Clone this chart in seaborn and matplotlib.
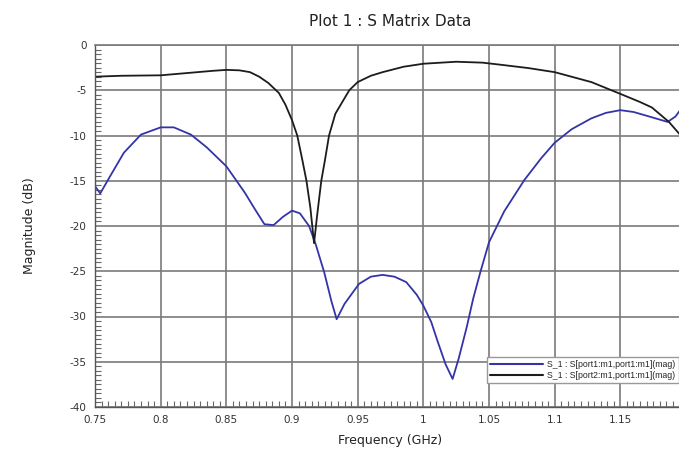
import numpy as np
import pandas as pd
import matplotlib
matplotlib.use("Agg")
import matplotlib.pyplot as plt
import seaborn as sns
from matplotlib.ticker import MultipleLocator, FixedLocator

# ---- data ----
freq_s11 = [0.750, 0.754, 0.7615, 0.772, 0.785, 0.800, 0.810, 0.823, 0.835, 0.850,
            0.864, 0.872, 0.879, 0.886, 0.893, 0.900, 0.906, 0.913, 0.918, 0.9245,
            0.930, 0.934, 0.940, 0.951, 0.960, 0.969, 0.978, 0.987, 0.995, 1.000,
            1.006, 1.011, 1.017, 1.0223, 1.027, 1.033, 1.038, 1.0436, 1.050, 1.0615,
            1.0677, 1.077, 1.0898, 1.100, 1.113, 1.128, 1.139, 1.150, 1.160, 1.172,
            1.186, 1.192, 1.199]
mag_s11 = [-15.6, -16.4, -14.5, -11.9, -9.9, -9.1, -9.1, -9.9, -11.3, -13.4,
           -16.3, -18.2, -19.8, -19.9, -19.0, -18.3, -18.6, -20.0, -22.0, -25.1,
           -28.3, -30.3, -28.6, -26.4, -25.6, -25.4, -25.6, -26.2, -27.6, -28.8,
           -30.6, -32.8, -35.3, -36.9, -34.6, -31.2, -28.0, -25.0, -21.8, -18.4,
           -17.0, -14.9, -12.5, -10.8, -9.3, -8.1, -7.5, -7.2, -7.4, -7.9,
           -8.5, -7.9, -6.5]

freq_s21 = [0.750, 0.770, 0.800, 0.820, 0.840, 0.850, 0.860, 0.868, 0.875, 0.882,
            0.890, 0.895, 0.900, 0.904, 0.908, 0.911, 0.914, 0.9168, 0.919, 0.9223,
            0.925, 0.9282, 0.933, 0.9436, 0.950, 0.960, 0.969, 0.985, 1.000, 1.025,
            1.045, 1.060, 1.080, 1.100, 1.128, 1.150, 1.165, 1.174, 1.187, 1.199]
mag_s21 = [-3.5, -3.4, -3.35, -3.1, -2.85, -2.75, -2.8, -3.0, -3.5, -4.2,
           -5.3, -6.6, -8.3, -10.0, -12.8, -15.0, -18.0, -21.9, -19.0, -15.0,
           -12.8, -10.0, -7.6, -5.0, -4.1, -3.4, -3.0, -2.4, -2.07, -1.85,
           -1.95, -2.2, -2.55, -3.0, -4.1, -5.4, -6.3, -6.9, -8.5, -10.5]

series_names = ["S_1 : S[port1:m1,port1:m1](mag)",
                "S_1 : S[port2:m1,port1:m1](mag)"]
x_ticks = [0.75, 0.8, 0.85, 0.9, 0.95, 1.0, 1.05, 1.1, 1.15, 1.2]
x_tick_labels = ["0.75", "0.8", "0.85", "0.9", "0.95", "1", "1.05", "1.1", "1.15", "1.2"]
y_ticks = [0, -5, -10, -15, -20, -25, -30, -35, -40]

df = pd.concat([
    pd.DataFrame({"freq": freq_s11, "mag": mag_s11, "trace": series_names[0]}),
    pd.DataFrame({"freq": freq_s21, "mag": mag_s21, "trace": series_names[1]}),
], ignore_index=True)

sns.set_style("white")
plt.rcParams["font.family"] = ["DejaVu Sans"]

fig = plt.figure(figsize=(6.79, 4.53), dpi=100)
ax = fig.add_axes([95 / 679, 1 - 407 / 453, (686 - 95) / 679, 362 / 453])

sns.lineplot(data=df, x="freq", y="mag", hue="trace", sort=False,
             palette={series_names[0]: "#3434a8", series_names[1]: "#1c1c1c"},
             linewidth=1.3, ax=ax, legend=True)

ax.set_xlim(0.75, 1.2)
ax.set_ylim(-40, 0)
ax.xaxis.set_major_locator(FixedLocator(x_ticks))
ax.set_xticklabels(x_tick_labels)
ax.yaxis.set_major_locator(FixedLocator(y_ticks))
ax.set_yticklabels([str(v) for v in y_ticks])
ax.xaxis.set_minor_locator(MultipleLocator(0.005))
ax.yaxis.set_minor_locator(MultipleLocator(0.5))

ax.grid(True, which="major", color="#7a7a7a", linewidth=1.2)
ax.set_axisbelow(True)
ax.tick_params(axis="both", which="both", bottom=True, left=True, top=False, right=False)
ax.tick_params(axis="both", which="major", direction="in", length=0,
               labelsize=7.5, labelcolor="#333333", pad=6)
ax.tick_params(axis="both", which="minor", direction="in", length=4,
               color="#666666", width=0.8)
for side in ["left", "bottom"]:
    ax.spines[side].set_color("#555555")
    ax.spines[side].set_linewidth(1.0)
for side in ["top", "right"]:
    ax.spines[side].set_color("#7a7a7a")
    ax.spines[side].set_linewidth(1.2)

ax.set_title("Plot 1 : S Matrix Data", fontsize=11, color="#222222", pad=14)
ax.set_xlabel("Frequency (GHz)", fontsize=9, color="#222222", labelpad=6)
ax.set_ylabel("Magnitude (dB)", fontsize=9, color="#222222", labelpad=24)

leg = ax.legend(loc="lower left", bbox_to_anchor=(0.663, 0.066),
                prop={"family": ["Liberation Sans", "DejaVu Sans"], "size": 6.3},
                frameon=True, fancybox=False, handlelength=6.0,
                borderpad=0.4, labelspacing=0.15, handletextpad=0.5,
                borderaxespad=0.0)
leg.get_frame().set_edgecolor("#999999")
leg.get_frame().set_linewidth(1.0)
leg.get_frame().set_alpha(1.0)
for line in leg.get_lines():
    line.set_linewidth(1.5)

fig.savefig("out.png", dpi=100)
